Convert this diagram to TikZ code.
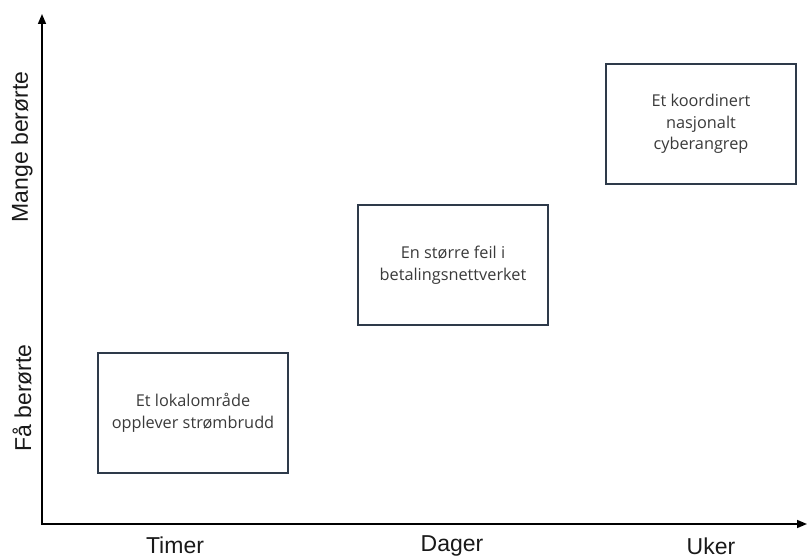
\documentclass[tikz,border=0pt]{standalone}
\usepackage{fontspec}
\setmainfont{Liberation Sans}
\newfontfamily\boxfont{Open Sans}
\usetikzlibrary{arrows.meta}

\definecolor{boxline}{HTML}{2E3A4A}
\definecolor{boxtext}{HTML}{3A3A3A}

\begin{document}
\begin{tikzpicture}[
  x=1pt, y=-1pt,
  box/.style={draw=boxline, line width=2pt, minimum width=190pt, minimum height=120pt,
              align=center, font=\boxfont\fontsize{16.3}{21.5}\selectfont, text=boxtext},
  axis/.style={line width=1.6pt, {Triangle[length=10pt,width=8pt]}-{Triangle[length=10pt,width=8pt]}},
  lbl/.style={font=\fontsize{23}{26}\selectfont, text=black!90}
]
\useasboundingbox (0,0) rectangle (807,559);

% axes
\coordinate (origo) at (42,524);
\coordinate (ytop) at (42,14);
\coordinate (xend) at (807,524);
\draw[axis] (ytop) -- (origo) -- (xend);

% scenarios
\node[box] (lokal) at (193,413) {Et lokalområde\\opplever strømbrudd};
\node[box] (betaling) at (453,265) {En større feil i\\betalingsnettverket};
\node[box] (cyber) at (701,124) {Et koordinert\\nasjonalt\\cyberangrep};

% axis labels
\node[lbl] (timer) at (175,545) {Timer};
\node[lbl] (dager) at (452,546) {Dager};
\node[lbl] (uker) at (711,546) {Uker};
\node[lbl, rotate=90] (mange) at (22,147) {Mange berørte};
\node[lbl, rotate=90] (faa) at (22,398) {Få berørte};
\end{tikzpicture}
\end{document}
